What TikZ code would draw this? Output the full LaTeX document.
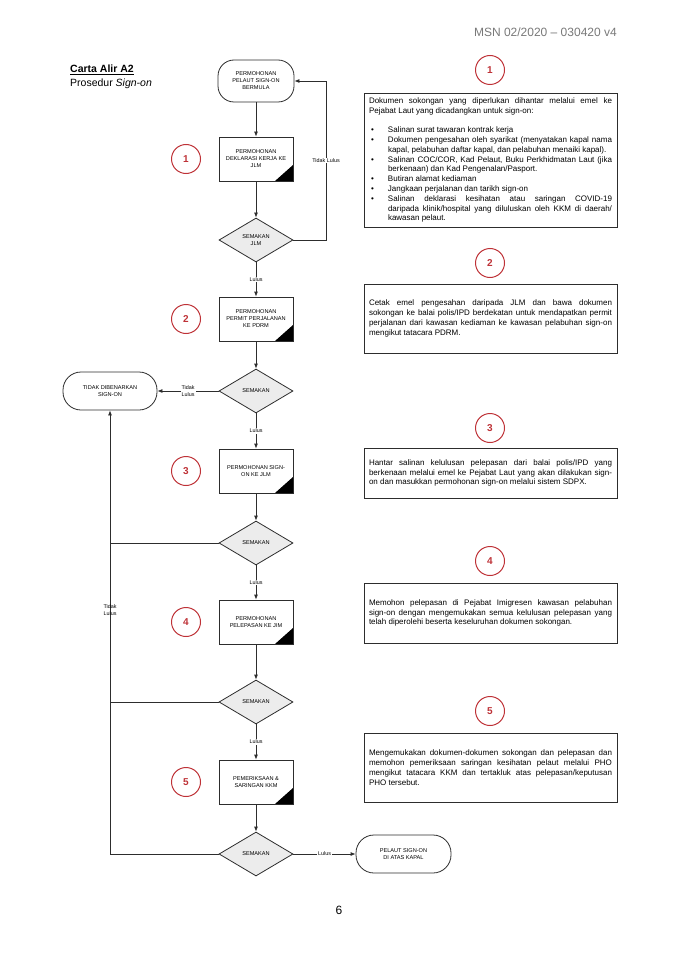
\documentclass[tikz,border=0pt]{standalone}
\usepackage{fontspec}
\setmainfont{Liberation Sans}
\usetikzlibrary{shapes.geometric,arrows.meta}
\definecolor{circred}{RGB}{190,50,55}
\definecolor{linegray}{RGB}{45,45,45}
\definecolor{dfill}{RGB}{236,236,236}
\definecolor{hdrgray}{RGB}{120,120,120}
\newcommand{\bitem}[1]{\par\noindent\hangindent=19pt\hangafter=1\makebox[19pt][l]{\hspace{2pt}\textbullet}#1\par}
\newcommand{\nohyph}{\hyphenpenalty=10000\relax\exhyphenpenalty=10000\relax}
\begin{document}
\begin{tikzpicture}[x=1pt,y=-1pt,
  every node/.style={inner sep=0pt},
  term/.style={draw=linegray,line width=0.8pt,rectangle,rounded corners=16pt,fill=white,
    align=center,font=\fontsize{5.6}{7}\selectfont},
  proc/.style={draw=linegray,line width=0.8pt,rectangle,fill=white,minimum width=74pt,minimum height=44pt,
    align=center,font=\fontsize{5.6}{7}\selectfont,
    path picture={\fill[black] (path picture bounding box.south east) -- ++(-18pt,0pt) -- ++(18pt,16pt) -- cycle;}},
  dec/.style={draw=linegray,line width=0.8pt,diamond,aspect=1.68,fill=dfill,minimum width=74pt,minimum height=44pt,
    align=center,font=\fontsize{5.6}{7}\selectfont},
  arr/.style={draw=linegray,line width=0.8pt,-{Latex[length=5pt,width=4pt]}},
  ln/.style={draw=linegray,line width=0.8pt},
  lbl/.style={fill=white,inner sep=1pt,align=center,font=\fontsize{5.4}{6.5}\selectfont},
  num/.style={circle,draw=circred,line width=1pt,minimum size=29pt,text=circred,font=\bfseries\fontsize{10}{12}\selectfont},
  note/.style={draw=linegray,line width=0.8pt,rectangle,text width=243pt,inner xsep=5pt,align=justify,
    font=\fontsize{8}{9.8}\selectfont}
]
\useasboundingbox (0,0) rectangle (678,960);

% header
\node[anchor=east,text=hdrgray,font=\fontsize{12}{14}\selectfont] (hdr) at (617,32) {MSN 02/2020 -- 030420 v4};
\node[anchor=west,font=\bfseries\fontsize{10.5}{12}\selectfont] (title) at (70,70) {\underline{Carta Alir A2}};
\node[anchor=west,font=\fontsize{10.5}{12}\selectfont] (subtitle) at (70,84) {Prosedur \textit{Sign-on}};
\node[font=\fontsize{12}{14}\selectfont] (page) at (339,910) {6};

% flow nodes
\node[term,minimum width=76pt,minimum height=42pt] (s) at (256,81) {PERMOHONAN\\PELAUT SIGN-ON\\BERMULA};
\node[proc] (b1) at (256,159) {PERMOHONAN\\DEKLARASI KERJA KE\\JLM};
\node[dec] (d1) at (256,240) {SEMAKAN\\JLM};
\node[proc] (b2) at (256,319) {PERMOHONAN\\PERMIT PERJALANAN\\KE PDRM};
\node[dec] (d2) at (256,391) {SEMAKAN};
\node[term,minimum width=94pt,minimum height=38pt,rounded corners=18pt] (t) at (110,391) {TIDAK DIBENARKAN\\SIGN-ON};
\node[proc] (b3) at (256,471) {PERMOHONAN SIGN-\\ON KE JLM};
\node[dec] (d3) at (256,543) {SEMAKAN};
\node[proc] (b4) at (256,622) {PERMOHONAN\\PELEPASAN KE JIM};
\node[dec] (d4) at (256,702) {SEMAKAN};
\node[proc] (b5) at (256,782) {PEMERIKSAAN \&\\SARINGAN KKM};
\node[dec] (d5) at (256,854) {SEMAKAN};
\node[term,minimum width=95pt,minimum height=38pt,rounded corners=18pt] (f) at (403.5,854) {PELAUT SIGN-ON\\DI ATAS KAPAL};

% step numbers (left)
\node[num] (n1) at (186,159) {1};
\node[num] (n2) at (186,319) {2};
\node[num] (n3) at (186,471) {3};
\node[num] (n4) at (186,622) {4};
\node[num] (n5) at (186,782) {5};

% step numbers (right)
\node[num] (r1) at (490,70) {1};
\node[num] (r2) at (490,263) {2};
\node[num] (r3) at (490,428) {3};
\node[num] (r4) at (490,561) {4};
\node[num] (r5) at (490,711) {5};

% notes
\node[note,minimum height=134pt] (t1) at (490.5,160) {\nohyph Dokumen sokongan yang diperlukan dihantar melalui emel ke\linebreak Pejabat Laut yang dicadangkan untuk sign-on:\par\vspace{9.8pt}%
\bitem{Salinan surat tawaran kontrak kerja}
\bitem{Dokumen pengesahan oleh syarikat (menyatakan kapal nama\linebreak kapal, pelabuhan daftar kapal, dan pelabuhan menaiki kapal).}
\bitem{Salinan COC/COR, Kad Pelaut, Buku Perkhidmatan Laut (jika\linebreak berkenaan) dan Kad Pengenalan/Pasport.}
\bitem{Butiran alamat kediaman}
\bitem{Jangkaan perjalanan dan tarikh sign-on}
\bitem{Salinan deklarasi kesihatan atau saringan COVID-19\linebreak daripada klinik/hospital yang diluluskan oleh KKM di daerah/\linebreak kawasan pelaut.}};
\node[note,minimum height=69pt] (t2) at (490.5,318.5) {\nohyph Cetak emel pengesahan daripada JLM dan bawa dokumen\linebreak sokongan ke balai polis/IPD berdekatan untuk mendapatkan permit\linebreak perjalanan dari kawasan kediaman ke kawasan pelabuhan sign-on\linebreak mengikut tatacara PDRM.};
\node[note,minimum height=50pt] (t3) at (490.5,473) {\nohyph Hantar salinan kelulusan pelepasan dari balai polis/IPD yang\linebreak berkenaan melalui emel ke Pejabat Laut yang akan dilakukan sign-\linebreak on dan masukkan permohonan sign-on melalui sistem SDPX.};
\node[note,minimum height=60pt] (t4) at (490.5,613) {\nohyph Memohon pelepasan di Pejabat Imigresen kawasan pelabuhan\linebreak sign-on dengan mengemukakan semua kelulusan pelepasan yang\linebreak telah diperolehi beserta keseluruhan dokumen sokongan.};
\node[note,minimum height=69pt] (t5) at (490.5,767.5) {\nohyph Mengemukakan dokumen-dokumen sokongan dan pelepasan dan\linebreak memohon pemeriksaan saringan kesihatan pelaut melalui PHO\linebreak mengikut tatacara KKM dan tertakluk atas pelepasan/keputusan\linebreak PHO tersebut.};

% connectors
\draw[arr] (s) -- (b1);
\draw[arr] (b1) -- (d1);
\draw[arr] (d1) -- node[lbl]{Lulus} (b2);
\draw[arr] (b2) -- (d2);
\draw[arr] (d2) -- node[lbl]{Lulus} (b3);
\draw[arr] (b3) -- (d3);
\draw[arr] (d3) -- node[lbl]{Lulus} (b4);
\draw[arr] (b4) -- (d4);
\draw[arr] (d4) -- node[lbl]{Lulus} (b5);
\draw[arr] (b5) -- (d5);

\coordinate (lp1) at (326,240);
\coordinate (lp2) at (326,81);
\draw[arr] (d1.east) -- (lp1) -- node[lbl]{Tidak Lulus} (lp2) -- (s.east);

\draw[arr] (d2.west) -- node[lbl]{Tidak\\Lulus} (t.east);

\draw[ln] (d3.west) -- (t.south |- d3.west);
\draw[ln] (d4.west) -- (t.south |- d4.west);
\draw[arr] (d5.west) -- (t.south |- d5.west) -- (t.south);
\node[align=center,font=\fontsize{5.4}{6.5}\selectfont] (tl) at (110,610) {Tidak\\Lulus};

\draw[arr] (d5.east) -- node[lbl]{Lulus} (f.west);
\end{tikzpicture}
\end{document}
